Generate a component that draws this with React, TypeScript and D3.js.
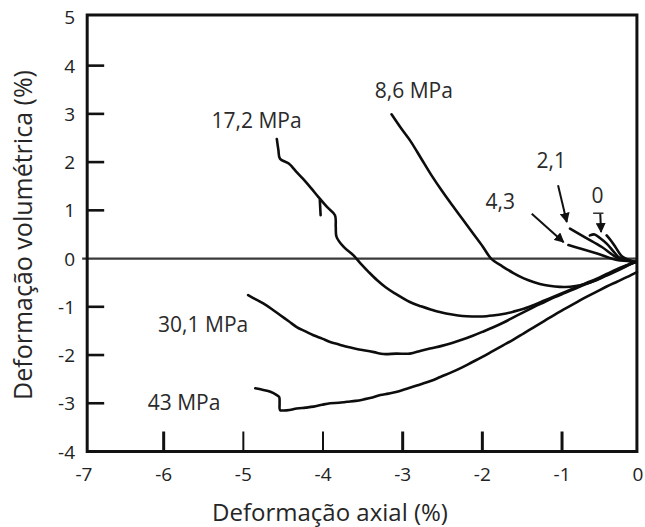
import React from "react";
import * as d3 from "d3";

type Pt = [number, number];

// Axial strain (%) vs volumetric strain (%) for each confining pressure
const curve0A: Pt[] = [[-0.65, 0.48], [-0.59, 0.5], [-0.52, 0.42], [-0.44, 0.31], [-0.36, 0.16], [-0.29, 0.03], [-0.18, -0.04], [-0.08, -0.07]];
const curve0B: Pt[] = [[-0.44, 0.48], [-0.38, 0.36], [-0.33, 0.24], [-0.25, 0.05], [-0.16, -0.03], [-0.08, -0.07]];
const curve2_1: Pt[] = [[-0.9, 0.62], [-0.7, 0.43], [-0.5, 0.24], [-0.31, 0.02], [-0.18, -0.04], [-0.08, -0.07]];
const curve4_3: Pt[] = [[-0.92, 0.28], [-0.75, 0.2], [-0.55, 0.1], [-0.31, -0.03], [-0.18, -0.05], [-0.08, -0.07]];
const curve8_6: Pt[] = [
  [-3.14, 2.99], [-3.02, 2.7], [-2.9, 2.43], [-2.77, 2.08], [-2.64, 1.73], [-2.51, 1.41], [-2.38, 1.11],
  [-2.25, 0.82], [-2.13, 0.55], [-2.0, 0.26], [-1.89, 0.0], [-1.75, -0.16], [-1.61, -0.3], [-1.48, -0.41],
  [-1.35, -0.49], [-1.22, -0.55], [-1.09, -0.58], [-0.96, -0.59], [-0.83, -0.57], [-0.7, -0.52],
  [-0.57, -0.45], [-0.45, -0.36], [-0.33, -0.27], [-0.22, -0.18], [-0.15, -0.12], [-0.08, -0.07],
];
const curve17_2: Pt[] = [
  [-4.58, 2.48], [-4.56, 2.25], [-4.54, 2.07], [-4.43, 1.97], [-4.34, 1.81], [-4.25, 1.65], [-4.15, 1.46],
  [-4.06, 1.28], [-3.95, 1.07], [-3.85, 0.9], [-3.84, 0.66], [-3.83, 0.45], [-3.74, 0.24], [-3.62, 0.07],
  [-3.53, -0.1], [-3.42, -0.29], [-3.32, -0.45], [-3.21, -0.6], [-3.1, -0.72], [-2.91, -0.9], [-2.77, -0.99],
  [-2.64, -1.06], [-2.51, -1.12], [-2.38, -1.16], [-2.25, -1.19], [-2.13, -1.2], [-2.0, -1.2], [-1.87, -1.18],
  [-1.74, -1.15], [-1.61, -1.1], [-1.48, -1.04], [-1.35, -0.96], [-1.22, -0.87], [-1.09, -0.78],
  [-0.96, -0.69], [-0.83, -0.6], [-0.7, -0.51], [-0.57, -0.42], [-0.44, -0.32], [-0.31, -0.22],
  [-0.19, -0.14], [-0.08, -0.07],
];
// Small spur on the 17,2 MPa trace
const spur17_2: Pt[] = [[-4.04, 1.22], [-4.035, 1.05], [-4.03, 0.9]];
const curve30_1: Pt[] = [
  [-4.94, -0.76], [-4.85, -0.84], [-4.75, -0.93], [-4.64, -1.05], [-4.54, -1.17], [-4.43, -1.3], [-4.33, -1.42],
  [-4.22, -1.51], [-4.12, -1.59], [-4.01, -1.66], [-3.91, -1.73], [-3.8, -1.78], [-3.7, -1.83], [-3.59, -1.87],
  [-3.49, -1.9], [-3.36, -1.94], [-3.24, -1.98], [-3.08, -1.97], [-2.91, -1.97], [-2.77, -1.91], [-2.64, -1.86],
  [-2.51, -1.81], [-2.38, -1.75], [-2.25, -1.68], [-2.12, -1.6], [-2.0, -1.52], [-1.87, -1.43], [-1.74, -1.33],
  [-1.61, -1.22], [-1.48, -1.11], [-1.35, -1.0], [-1.22, -0.9], [-1.09, -0.8], [-0.96, -0.71], [-0.83, -0.62],
  [-0.7, -0.53], [-0.57, -0.44], [-0.44, -0.34], [-0.31, -0.24], [-0.19, -0.15], [-0.08, -0.07],
];
const curve43: Pt[] = [
  [-4.85, -2.69], [-4.76, -2.72], [-4.66, -2.76], [-4.58, -2.83], [-4.55, -2.87], [-4.545, -3.0], [-4.54, -3.14],
  [-4.5, -3.15], [-4.42, -3.14], [-4.33, -3.11], [-4.22, -3.09], [-4.12, -3.07], [-4.01, -3.03], [-3.91, -3.0],
  [-3.8, -2.99], [-3.7, -2.97], [-3.59, -2.95], [-3.49, -2.92], [-3.38, -2.88], [-3.28, -2.83], [-3.18, -2.8],
  [-3.07, -2.76], [-2.91, -2.68], [-2.78, -2.61], [-2.65, -2.54], [-2.52, -2.45], [-2.39, -2.36], [-2.26, -2.26],
  [-2.13, -2.15], [-2.0, -2.04], [-1.87, -1.92], [-1.74, -1.8], [-1.61, -1.68], [-1.48, -1.55], [-1.35, -1.42],
  [-1.22, -1.29], [-1.09, -1.16], [-0.96, -1.04], [-0.83, -0.92], [-0.7, -0.8], [-0.57, -0.69], [-0.44, -0.58],
  [-0.31, -0.48], [-0.18, -0.38], [-0.06, -0.28],
];

const seriesPaths: Pt[][] = [curve43, curve30_1, curve17_2, spur17_2, curve8_6, curve4_3, curve2_1, curve0A, curve0B];

// Arrows pointing from the low-pressure labels to their traces
const arrows: { from: Pt; to: Pt }[] = [
  { from: [-1.38, 0.93], to: [-0.98, 0.34] },
  { from: [-1.05, 1.52], to: [-0.94, 0.76] },
  { from: [-0.52, 0.93], to: [-0.51, 0.55] },
];
const zeroBar: Pt[] = [[-0.61, 0.94], [-0.48, 0.94]];

const curveLabels = ["8,6 MPa", "17,2 MPa", "4,3", "2,1", "0", "30,1 MPa", "43 MPa"];
const labelAnchors: Pt[] = [[-3.35, 3.33], [-5.4, 2.7], [-1.96, 1.02], [-1.32, 1.88], [-0.63, 1.15], [-6.07, -1.53], [-6.2, -3.13]];

const xTicks = [-7, -6, -5, -4, -3, -2, -1, 0];
const yTicks = [-4, -3, -2, -1, 0, 1, 2, 3, 4, 5];
const xTitle = "Deformação axial (%)";
const yTitle = "Deformação volumétrica (%)";

const W = 645;
const H = 527;
const FONT = "'Open Sans', 'DejaVu Sans', sans-serif";

export default function App() {
  const x = d3.scaleLinear().domain([-7, 0]).range([84, 641.7]);
  const y = d3.scaleLinear().domain([-4, 5]).range([451.5, 17.4]);

  const frameL = x(-6.96);
  const frameR = x(-0.06);
  const frameT = y(5.05);
  const frameB = y(-4.0);

  const line = d3
    .line<Pt>()
    .x((d) => x(d[0]))
    .y((d) => y(d[1]))
    .curve(d3.curveCatmullRom.alpha(0.5));

  return (
    <svg
      width={W}
      height={H}
      viewBox={`0 0 ${W} ${H}`}
      style={{ position: "absolute", left: 0, top: 0, background: "#fff" }}
    >
      <defs>
        <marker id="arrowHead" viewBox="0 0 10 10" refX="9" refY="5" markerWidth="5" markerHeight="5" orient="auto">
          <path d="M0,0 L10,5 L0,10 z" fill="#111" />
        </marker>
      </defs>
      <rect x={0} y={0} width={W} height={H} fill="#fff" />

      {/* zero volumetric strain line */}
      <line x1={frameL - 5} x2={frameR} y1={y(0)} y2={y(0)} stroke="#3a3a3a" strokeWidth={2.2} />

      {/* frame */}
      <rect x={frameL} y={frameT} width={frameR - frameL} height={frameB - frameT} fill="none" stroke="#111" strokeWidth={3} />

      {/* y ticks, drawn inward */}
      {yTicks
        .filter((t) => t > -4 && t < 5 && t !== 0)
        .map((t) => (
          <line key={`yt${t}`} x1={frameL} x2={frameL + 17} y1={y(t)} y2={y(t)} stroke="#111" strokeWidth={2.6} />
        ))}
      {yTicks.map((t) => (
        <text
          key={`yl${t}`}
          x={75}
          y={y(t)}
          textAnchor="end"
          dominantBaseline="central"
          fontFamily={FONT}
          fontSize={19}
          fill="#222"
        >
          {t}
        </text>
      ))}

      {/* x ticks, drawn inward */}
      {xTicks
        .filter((t) => t > -7 && t < 0)
        .map((t) => (
          <line key={`xt${t}`} x1={x(t)} x2={x(t)} y1={frameB} y2={frameB - 20} stroke="#111" strokeWidth={t === -5 || t === -4 ? 2 : 3} />
        ))}
      {xTicks.map((t) => (
        <text key={`xl${t}`} x={Math.min(x(t), W - 7)} y={481} textAnchor="middle" fontFamily={FONT} fontSize={19} fill="#222">
          {t}
        </text>
      ))}

      {/* traces */}
      {seriesPaths.map((p, i) => (
        <path key={`s${i}`} d={line(p) ?? ""} fill="none" stroke="#0d0d0d" strokeWidth={2.6} strokeLinejoin="round" strokeLinecap="round" />
      ))}

      {/* arrows */}
      {arrows.map((a, i) => (
        <line
          key={`a${i}`}
          x1={x(a.from[0])}
          y1={y(a.from[1])}
          x2={x(a.to[0])}
          y2={y(a.to[1])}
          stroke="#111"
          strokeWidth={2}
          markerEnd="url(#arrowHead)"
        />
      ))}
      <line x1={x(zeroBar[0][0])} x2={x(zeroBar[1][0])} y1={y(zeroBar[0][1])} y2={y(zeroBar[1][1])} stroke="#333" strokeWidth={1.5} />

      {/* pressure labels */}
      {curveLabels.map((lbl, i) => (
        <text key={`cl${i}`} x={x(labelAnchors[i][0])} y={y(labelAnchors[i][1])} fontFamily={FONT} fontSize={21} fill="#2a2a2a">
          {lbl}
        </text>
      ))}

      {/* axis titles */}
      <text x={330} y={521} textAnchor="middle" fontFamily={FONT} fontSize={24} fill="#262626">
        {xTitle}
      </text>
      <text
        transform={`translate(22, 235) rotate(-90)`}
        textAnchor="middle"
        dominantBaseline="central"
        fontFamily={FONT}
        fontSize={25}
        fill="#262626"
      >
        {yTitle}
      </text>
    </svg>
  );
}
